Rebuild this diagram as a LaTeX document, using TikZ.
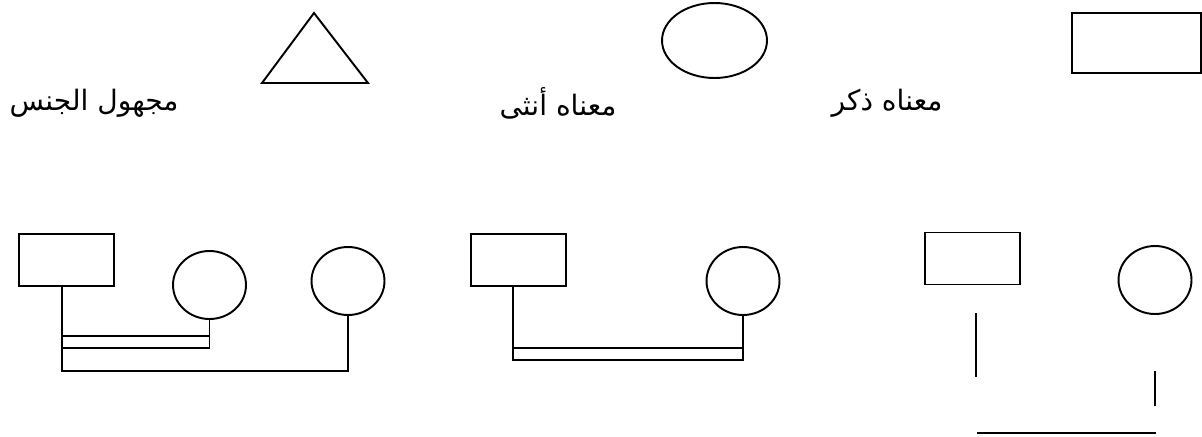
\documentclass[tikz,border=0pt]{standalone}
\usepackage{fontspec}
\newfontfamily\arabicfont[Script=Arabic]{DejaVu Sans}
\TeXXeTstate=1
\usetikzlibrary{shapes.geometric, positioning}

\begin{document}
\begin{tikzpicture}[
  x=0.02cm, y=-0.02cm,
  line width=1.1pt,
  male/.style={rectangle, draw, minimum width=1.9cm, minimum height=1.04cm, inner sep=0pt},
  female/.style={ellipse, draw, minimum width=1.46cm, minimum height=1.36cm, inner sep=0pt},
  keytext/.style={font=\arabicfont\fontsize{16}{19}\selectfont, inner sep=0pt}
]
\useasboundingbox (0,0) rectangle (1202,436);

% Key
\node[male, minimum width=2.58cm, minimum height=1.2cm] (keymale) at (1136.5,43) {};
\node[female, minimum width=2.1cm, minimum height=1.5cm] (keyfemale) at (714.5,40.5) {};
\coordinate (keyl) at (262,83);
\coordinate (keyt) at (314,13);
\coordinate (keyr) at (368,83);
\draw (keyl) -- (keyt) -- (keyr) -- cycle;

\node[keytext] (txtmale)    at (887,103) {\beginR معناه ذكر\endR};
\node[keytext] (txtfemale)  at (558,103) {\beginR معناه أنثى\endR};
\node[keytext] (txtunknown) at (94,103)  {\beginR مجهول الجنس\endR};

% Family 1
\node[male]   (g1m) at (66.5,260) {};
\node[female] (g1f) at (209.5,285) {};
\node[female] (g1g) at (348,281) {};
\coordinate (g1a) at (62,336);
\coordinate (g1b) at (62,348);
\coordinate (g1c) at (62,371);
\draw ([xshift=-0.09cm]g1m.south) -- (g1c) -| (g1g.south);
\draw (g1f.south) |- (g1b);
\draw (g1a) -- (g1a -| g1f.south);

% Family 2
\node[male]   (g2m) at (518.5,260) {};
\node[female] (g2f) at (743,281) {};
\coordinate (g2a) at (513,348);
\coordinate (g2b) at (513,360);
\draw ([xshift=-0.11cm]g2m.south) -- (g2b) -| (g2f.south);
\draw (g2a) -- (g2a -| g2f.south);

% Family 3
\node[male]   (g3m) at (972.5,258.5) {};
\node[female] (g3f) at (1155,280) {};
\coordinate (g3a) at (976,313);
\coordinate (g3b) at (976,377);
\coordinate (g3c) at (1155,371);
\coordinate (g3d) at (1155,406);
\coordinate (g3e) at (977,433);
\coordinate (g3f) at (1156,433);
\draw (g3a) -- (g3b);
\draw (g3c) -- (g3d);
\draw (g3e) -- (g3f);

\end{tikzpicture}
\end{document}
